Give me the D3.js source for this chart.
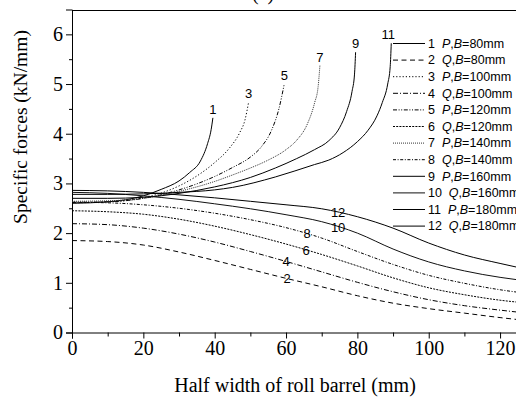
<!DOCTYPE html>
<html><head><meta charset="utf-8">
<script src="https://cdn.jsdelivr.net/npm/d3@7"></script>
<style>body{margin:0;background:#fff}svg{display:block}</style>
</head><body><svg id="c" width="516" height="398"></svg>
<script>
// ---- data ----
const xTicksMajor = [0, 20, 40, 60, 80, 100, 120];
const xTicksMinor = [10, 30, 50, 70, 90, 110];
const yTicksMajor = [0, 1, 2, 3, 4, 5, 6];
const yTicksMinor = [0.5, 1.5, 2.5, 3.5, 4.5, 5.5];

const curveIds = ["1","2","3","4","5","6","7","8","9","10","11","12"];
const curveType = ["P","Q","P","Q","P","Q","P","Q","P","Q","P","Q"];
const curveB = [80, 80, 100, 100, 120, 120, 140, 140, 160, 160, 180, 180];

// Q curves (whole half width)
const xQ = [0, 10, 20, 30, 40, 50, 60, 70, 80, 90, 100, 110, 120, 125];
const q2  = [1.85, 1.83, 1.76, 1.62, 1.45, 1.27, 1.09, 0.92, 0.74, 0.59, 0.48, 0.39, 0.30, 0.26];
const q4  = [2.19, 2.17, 2.10, 1.98, 1.82, 1.63, 1.43, 1.22, 1.01, 0.82, 0.66, 0.54, 0.45, 0.41];
const q6  = [2.45, 2.43, 2.38, 2.28, 2.14, 1.97, 1.78, 1.57, 1.34, 1.10, 0.90, 0.76, 0.65, 0.61];
const q8  = [2.62, 2.61, 2.57, 2.50, 2.40, 2.27, 2.11, 1.90, 1.63, 1.37, 1.15, 0.99, 0.86, 0.81];
const q10 = [2.82, 2.80, 2.75, 2.68, 2.59, 2.49, 2.37, 2.23, 2.00, 1.68, 1.42, 1.24, 1.11, 1.06];
const q12 = [2.86, 2.85, 2.82, 2.77, 2.71, 2.64, 2.57, 2.49, 2.33, 2.10, 1.80, 1.56, 1.39, 1.31];

// P curves (end at the barrel edge)
const p1X = [0, 10, 20, 25, 30, 33, 36, 38, 39, 39.5];
const p1Y = [2.60, 2.63, 2.75, 2.88, 3.05, 3.22, 3.45, 3.80, 4.08, 4.32];
const p3X = [0, 10, 20, 30, 35, 40, 44, 47, 48.5, 49.5];
const p3Y = [2.61, 2.63, 2.71, 2.95, 3.15, 3.42, 3.70, 4.02, 4.28, 4.63];
const p5X = [0, 10, 20, 30, 40, 45, 50, 53, 56, 58, 59.5];
const p5Y = [2.62, 2.63, 2.70, 2.87, 3.14, 3.32, 3.53, 3.73, 4.08, 4.50, 5.00];
const p7X = [0, 10, 20, 30, 40, 45, 50, 55, 60, 63, 66, 68, 69, 69.5];
const p7Y = [2.64, 2.65, 2.70, 2.84, 3.04, 3.17, 3.31, 3.47, 3.68, 3.87, 4.20, 4.62, 4.95, 5.37];
const p9X = [0, 10, 20, 30, 40, 50, 57, 63, 68, 72, 75, 77, 78.5, 79.2, 79.5];
const p9Y = [2.70, 2.70, 2.72, 2.80, 2.93, 3.12, 3.31, 3.50, 3.68, 3.86, 4.12, 4.45, 4.85, 5.20, 5.64];
const p11X = [0, 10, 20, 30, 40, 45, 57, 68, 72, 76, 80, 83, 85.5, 87, 88.5, 89.2, 89.5];
const p11Y = [2.78, 2.78, 2.79, 2.82, 2.87, 2.92, 3.13, 3.38, 3.47, 3.62, 3.84, 4.07, 4.36, 4.63, 5.00, 5.35, 5.82];

const seriesX = [p1X, xQ, p3X, xQ, p5X, xQ, p7X, xQ, p9X, xQ, p11X, xQ];
const seriesY = [p1Y, q2, p3Y, q4, p5Y, q6, p7Y, q8, p9Y, q10, p11Y, q12];

// ---- styles / layout ----
const dashes = [null, "5,3.5", "1.2,2", "5,2,1,2", "4,1.6,1,1.6,1,1.6", "2,1.2", "1,1", "3,1.6,1,1.6", null, null, null, null];
const strokeCol = ["#000","#000","#000","#000","#000","#000","#333","#000","#000","#111","#000","#000"];
const qLabelU = {"2": 60.3, "4": 60.0, "6": 65.6, "8": 65.9, "10": 74.6, "12": 74.6};

const svg = d3.select("#c");
const x = d3.scaleLinear().domain([0, 125]).range([72, 517.9]);
const y = d3.scaleLinear().domain([0, 6.5]).range([332.5, 9.5]);

const serif = "'Liberation Serif','Times New Roman',Times,serif";
const sans = "'Liberation Sans',Arial,Helvetica,sans-serif";

// frame top/right
svg.append("path")
  .attr("d", `M${x(0)},${Math.round(y(6.5))+0.5}H${x(125)}V${y(0)}`)
  .attr("fill", "none").attr("stroke", "#000").attr("stroke-width", 1);

// axes
function styleAxis(g) {
  g.selectAll("text").attr("font-family", serif).attr("font-size", 20).attr("fill", "#000");
  g.selectAll("line,path").attr("stroke", "#000");
}
const gx = svg.append("g").attr("transform", `translate(0,${y(0)})`)
  .call(d3.axisBottom(x).tickValues(xTicksMajor).tickSize(6).tickPadding(2).tickFormat(d3.format("d")));
styleAxis(gx);
const gxm = svg.append("g").attr("transform", `translate(0,${y(0)})`)
  .call(d3.axisBottom(x).tickValues(xTicksMinor).tickSize(4).tickFormat(""));
gxm.select(".domain").remove(); styleAxis(gxm);

const gy = svg.append("g").attr("transform", `translate(${x(0)},0)`)
  .call(d3.axisLeft(y).tickValues(yTicksMajor).tickSize(6).tickPadding(3).tickFormat(d3.format("d")));
styleAxis(gy);
const gym = svg.append("g").attr("transform", `translate(${x(0)},0)`)
  .call(d3.axisLeft(y).tickValues(yTicksMinor).tickSize(3).tickFormat(""));
gym.select(".domain").remove(); styleAxis(gym);

// axis titles
svg.append("text").attr("x", 295).attr("y", 392).attr("text-anchor", "middle")
  .attr("font-family", serif).attr("font-size", 20).text("Half width of roll barrel (mm)");
svg.append("text").attr("transform", "translate(27,127) rotate(-90)").attr("text-anchor", "middle")
  .attr("font-family", serif).attr("font-size", 19.5).text("Specific forces (kN/mm)");
svg.append("text").attr("x", 263).attr("y", 0).attr("text-anchor", "middle")
  .attr("font-family", serif).attr("font-size", 20).text("(a)");

// curves
const line = d3.line().x(d => x(d[0])).y(d => y(d[1])).curve(d3.curveMonotoneX);
curveIds.forEach((id, i) => {
  const pts = seriesX[i].map((u, k) => [u, seriesY[i][k]]);
  svg.append("path").datum(pts).attr("d", line)
    .attr("fill", "none").attr("stroke", strokeCol[i]).attr("stroke-width", 1)
    .attr("stroke-dasharray", dashes[i]);
  if (curveType[i] === "P") {
    const last = pts[pts.length - 1];
    svg.append("text").attr("x", x(last[0]) - (id.length > 1 ? 3 : 0)).attr("y", y(last[1]) - 4)
      .attr("text-anchor", "middle").attr("font-family", sans).attr("font-size", 13).text(id);
  } else {
    const u = qLabelU[id];
    const v = d3.scaleLinear().domain(seriesX[i]).range(seriesY[i])(u);
    svg.append("text").attr("x", x(u)).attr("y", y(v)).attr("dy", "0.36em")
      .attr("text-anchor", "middle").attr("font-family", sans).attr("font-size", 13).text(id);
  }
});

// legend
const lg = svg.append("g");
curveIds.forEach((id, i) => {
  const yy = 43.5 + i * 16.6;
  lg.append("line").attr("x1", 393).attr("x2", 425).attr("y1", yy).attr("y2", yy)
    .attr("stroke", strokeCol[i]).attr("stroke-width", 1).attr("stroke-dasharray", dashes[i]);
  const t = lg.append("text").attr("x", 428).attr("y", yy + 4.3)
    .attr("font-family", sans).attr("font-size", 12.5).attr("xml:space", "preserve")
    .style("white-space", "pre");
  t.append("tspan").text(id + "  ");
  t.append("tspan").attr("font-style", "italic").text(curveType[i]);
  t.append("tspan").text(",");
  t.append("tspan").attr("font-style", "italic").text("B");
  t.append("tspan").text("=" + curveB[i] + "mm");
});
</script></body></html>
